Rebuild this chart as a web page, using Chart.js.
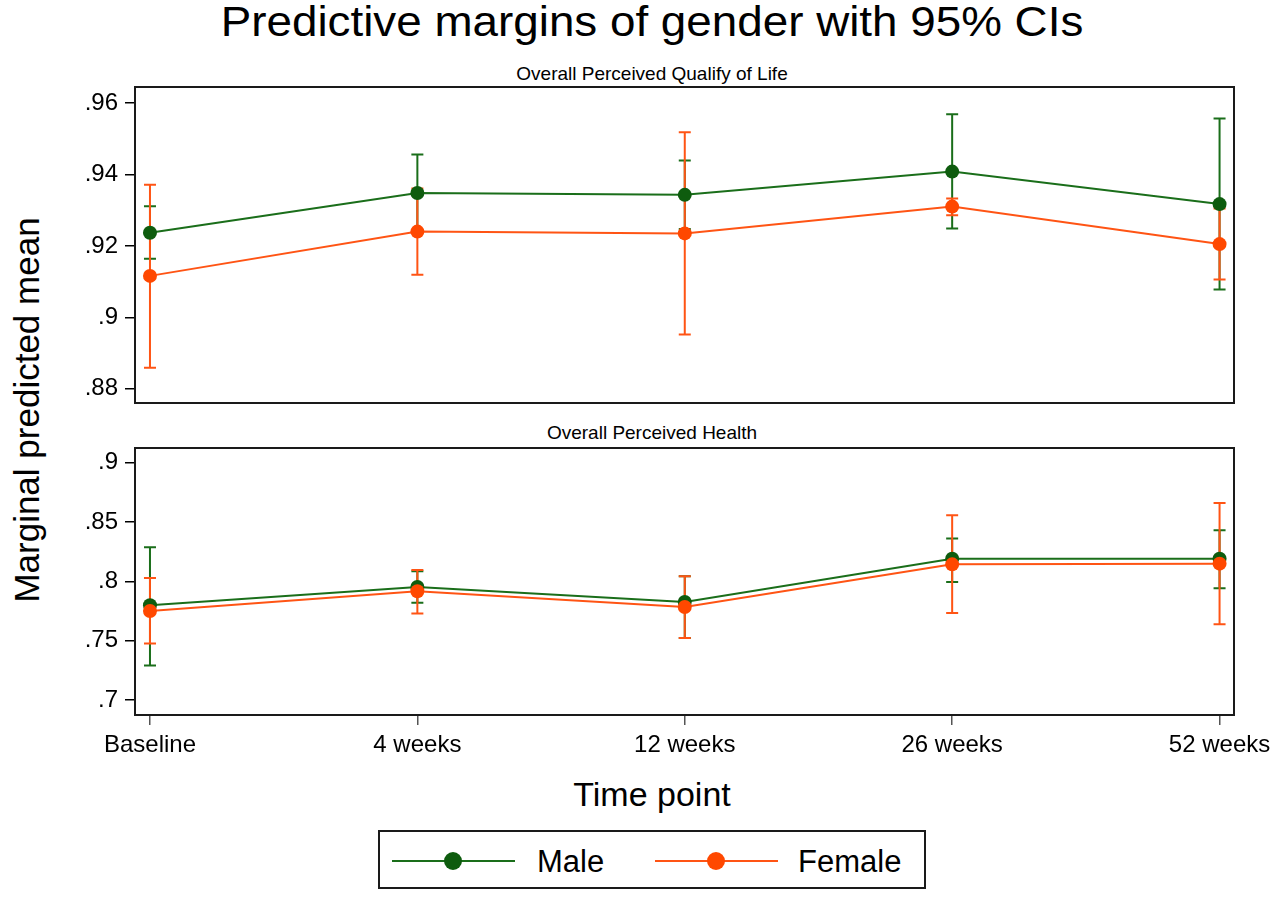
<!DOCTYPE html>
<html>
<head>
<meta charset="utf-8">
<script src="https://cdn.jsdelivr.net/npm/chart.js@4.4.1/dist/chart.umd.min.js"></script>
<style>
  html, body { margin: 0; padding: 0; background: #fff; }
  body { width: 1280px; height: 897px; position: relative; overflow: hidden; font-family: 'Liberation Sans', Arial, sans-serif; color: #000; }
  canvas { position: absolute; left: 0; }
  .txt { position: absolute; white-space: nowrap; line-height: 1; }
  #legend { position: absolute; left: 378px; top: 830px; width: 544px; height: 55px; border: 2px solid #1a1a1a; }
  .lline { position: absolute; height: 2px; top: 28px; }
  .ldot { position: absolute; width: 18px; height: 18px; border-radius: 50%; top: 20px; }
  .ltxt { position: absolute; font-size: 31px; line-height: 1; top: 14px; }
</style>
</head>
<body>
<div class="txt" id="title" style="font-size:42px; left:652px; top:1px; transform: translateX(-50%) scaleX(1.09);">Predictive margins of gender with 95% CIs</div>
<div class="txt" style="font-size:19px; left:652px; top:64px; transform: translateX(-50%);">Overall Perceived Qualify of Life</div>
<div class="txt" style="font-size:19px; left:652px; top:423px; transform: translateX(-50%);">Overall Perceived Health</div>
<div class="txt" style="font-size:35px; left:26px; top:410px; transform: translate(-50%,-50%) rotate(-90deg);">Marginal predicted mean</div>
<div class="txt" style="font-size:34px; left:652px; top:777px; transform: translateX(-50%);">Time point</div>
<div id="legend">
  <div class="lline" style="left:12px; width:123px; background:#1a6e1a;"></div>
  <div class="ldot" style="left:64px; background:#0e5c0e;"></div>
  <div class="ltxt" style="left:157px;">Male</div>
  <div class="lline" style="left:275px; width:123px; background:#ff5414;"></div>
  <div class="ldot" style="left:327px; background:#ff4800;"></div>
  <div class="ltxt" style="left:418px;">Female</div>
</div>
<canvas id="top" width="1280" height="330" style="top:80px;"></canvas>
<canvas id="bottom" width="1280" height="330" style="top:440px;"></canvas>
<script>
const categories = ['Baseline', '4 weeks', '12 weeks', '26 weeks', '52 weeks'];

// Overall Perceived Quality of Life
const qolMale     = [0.9237, 0.9348, 0.9343, 0.9408, 0.9317];
const qolMaleLo   = [0.9164, 0.9240, 0.9247, 0.9249, 0.9078];
const qolMaleHi   = [0.9311, 0.9456, 0.9439, 0.9569, 0.9557];
const qolFemale   = [0.9116, 0.9240, 0.9235, 0.9310, 0.9205];
const qolFemaleLo = [0.8859, 0.9119, 0.8952, 0.9286, 0.9106];
const qolFemaleHi = [0.9371, 0.9361, 0.9518, 0.9333, 0.9305];
const qolTicks    = [0.88, 0.90, 0.92, 0.94, 0.96];

// Overall Perceived Health
const hMale     = [0.7798, 0.7952, 0.7826, 0.8191, 0.8191];
const hMaleLo   = [0.7290, 0.7820, 0.7523, 0.7994, 0.7941];
const hMaleHi   = [0.8286, 0.8084, 0.8042, 0.8360, 0.8430];
const hFemale   = [0.7750, 0.7916, 0.7784, 0.8143, 0.8149];
const hFemaleLo = [0.7476, 0.7728, 0.7523, 0.7733, 0.7638];
const hFemaleHi = [0.8028, 0.8095, 0.8042, 0.8556, 0.8659];
const healthTicks = [0.70, 0.75, 0.80, 0.85, 0.90];

const MALE_LINE = '#1a6e1a', MALE_PT = '#0e5c0e';
const FEMALE_LINE = '#ff5414', FEMALE_PT = '#ff4800';
const FONT = "'Liberation Sans', Arial, sans-serif";

const fmt = v => String(v).replace(/^0\./, '.');

const errorBarPlugin = {
  id: 'errorBars',
  beforeDatasetsDraw(chart) {
    const ctx = chart.ctx, xs = chart.scales.x, ys = chart.scales.y;
    const bars = chart.options.plugins.errorBars.series;
    ctx.save();
    ctx.lineWidth = 2;
    bars.forEach(s => {
      ctx.strokeStyle = s.color;
      s.lo.forEach((lo, i) => {
        const x = xs.getPixelForValue(i);
        const yl = ys.getPixelForValue(lo);
        const yh = ys.getPixelForValue(s.hi[i]);
        ctx.beginPath();
        ctx.moveTo(x, yl); ctx.lineTo(x, yh);
        ctx.moveTo(x - 6, yl); ctx.lineTo(x + 6, yl);
        ctx.moveTo(x - 6, yh); ctx.lineTo(x + 6, yh);
        ctx.stroke();
      });
    });
    ctx.restore();
  },
  afterDatasetsDraw(chart) {
    const a = chart.chartArea, ctx = chart.ctx;
    ctx.save();
    ctx.strokeStyle = '#1a1a1a';
    ctx.lineWidth = 2;
    ctx.strokeRect(a.left, a.top, a.right - a.left, a.bottom - a.top);
    ctx.restore();
  }
};

function pts(arr) { return arr.map((v, i) => ({ x: i, y: v })); }

function makeChart(id, male, female, mLo, mHi, fLo, fHi, ticks, yMin, yMax, showX, padding) {
  return new Chart(document.getElementById(id), {
    type: 'line',
    data: {
      datasets: [
        { label: 'Male', data: pts(male), borderColor: MALE_LINE, borderWidth: 2,
          pointRadius: 7, pointBackgroundColor: MALE_PT, pointBorderWidth: 0, order: 2, tension: 0 },
        { label: 'Female', data: pts(female), borderColor: FEMALE_LINE, borderWidth: 2,
          pointRadius: 7, pointBackgroundColor: FEMALE_PT, pointBorderWidth: 0, order: 1, tension: 0 }
      ]
    },
    options: {
      responsive: false,
      animation: false,
      devicePixelRatio: 1,
      layout: { padding: padding, autoPadding: false },
      plugins: {
        legend: { display: false },
        tooltip: { enabled: false },
        errorBars: { series: [
          { lo: mLo, hi: mHi, color: MALE_LINE },
          { lo: fLo, hi: fHi, color: FEMALE_LINE }
        ] }
      },
      scales: {
        x: {
          type: 'linear', min: -0.056, max: 4.054,
          display: showX,
          afterBuildTicks: s => { s.ticks = categories.map((c, i) => ({ value: i })); },
          afterFit: s => {
            s.height = showX ? 55 : 0;
            s.paddingLeft = 0; s.paddingRight = 0; s.paddingTop = 0; s.paddingBottom = 0;
          },
          ticks: { callback: v => categories[v], autoSkip: false, maxRotation: 0, minRotation: 0,
                   font: { family: FONT, size: 24 }, color: '#000', padding: 6 },
          grid: { drawOnChartArea: false, drawTicks: true, tickLength: 10, color: '#555', lineWidth: 1.5 },
          border: { display: false }
        },
        y: {
          type: 'linear', min: yMin, max: yMax,
          afterBuildTicks: s => { s.ticks = ticks.map(v => ({ value: v })); },
          afterFit: s => {
            s.width = 135;
            s.paddingLeft = 0; s.paddingRight = 0; s.paddingTop = 0; s.paddingBottom = 0;
          },
          ticks: { callback: v => fmt(v), autoSkip: false, font: { family: FONT, size: 24 }, color: '#000', padding: 7 },
          grid: { drawOnChartArea: false, drawTicks: true, tickLength: 10, color: '#000', lineWidth: 1.5 },
          border: { display: false }
        }
      }
    },
    plugins: [errorBarPlugin]
  });
}

makeChart('top', qolMale, qolFemale, qolMaleLo, qolMaleHi, qolFemaleLo, qolFemaleHi,
  qolTicks, 0.876, 0.9645, false, { top: 7, bottom: 7, left: 0, right: 46 });
makeChart('bottom', hMale, hFemale, hMaleLo, hMaleHi, hFemaleLo, hFemaleHi,
  healthTicks, 0.6874, 0.9123, true, { top: 8, bottom: 0, left: 0, right: 46 });
</script>
</body>
</html>
